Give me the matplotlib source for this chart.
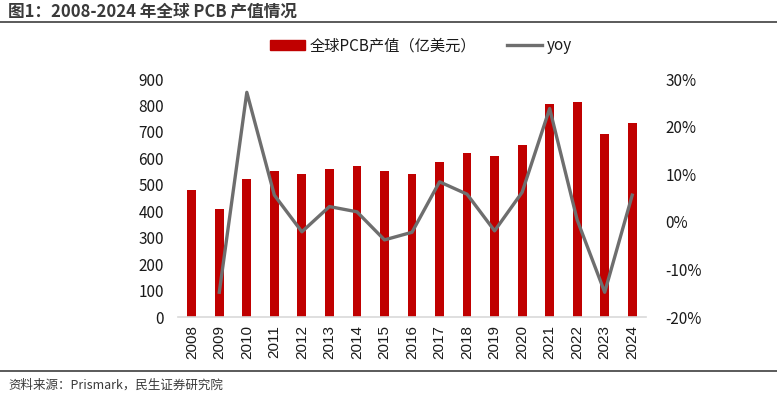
import numpy as np
import matplotlib.pyplot as plt
from matplotlib.lines import Line2D
from matplotlib.ticker import FuncFormatter

plt.rcParams['font.family'] = ['Noto Sans CJK SC', 'DejaVu Sans']

# Data
years = ['2008', '2009', '2010', '2011', '2012', '2013', '2014', '2015', '2016',
         '2017', '2018', '2019', '2020', '2021', '2022', '2023', '2024']
pcb_value = [480, 408, 522, 551, 541, 560, 571, 551, 540,
             586, 620, 609, 649, 807, 814, 692, 733]
yoy_years = years[1:]
yoy_pct = [-14.8, 27.2, 5.6, -2.1, 3.2, 2.1, -3.8, -2.2,
           8.4, 5.8, -1.9, 6.2, 23.8, 0.4, -14.8, 5.6]

bar_color = '#C00000'
line_color = '#6E6E6E'
text_color = '#1a1a1a'

fig = plt.figure(figsize=(7.77, 3.99), dpi=100)

# Main axes (bars, left scale)
ax = fig.add_axes([178 / 777, 82 / 399, (646 - 178) / 777, (317 - 79) / 399])
x = np.arange(len(years))
ax.bar(x, pcb_value, width=0.32, color=bar_color, zorder=2)
ax.set_xlim(-0.5, len(years) - 0.5)
ax.set_ylim(0, 900)
ax.set_yticks(range(0, 901, 100))
ax.set_xticks(x)
ax.set_xticklabels(years, rotation=90, family='Liberation Sans', fontsize=11.5)
ax.tick_params(axis='both', length=0, labelsize=11, colors=text_color)
ax.tick_params(axis='y', pad=10)
ax.tick_params(axis='x', pad=6)
for s in ['top', 'right', 'left']:
    ax.spines[s].set_visible(False)
ax.spines['bottom'].set_color('#d9d9d9')
ax.spines['bottom'].set_linewidth(1.2)

# Secondary axes (yoy line, right scale)
ax2 = ax.twinx()
yx = np.arange(1, len(years))
ax2.plot(yx, yoy_pct, color=line_color, linewidth=2.4, zorder=3)
ax2.set_ylim(-20, 30)
ax2.set_yticks(range(-20, 31, 10))
ax2.yaxis.set_major_formatter(FuncFormatter(lambda v, p: f'{int(v)}%'))
ax2.tick_params(axis='y', length=0, labelsize=11, colors=text_color, pad=14)
for s in ['top', 'right', 'left', 'bottom']:
    ax2.spines[s].set_visible(False)

# Legend
handles = [plt.Rectangle((0, 0), 1, 1, color=bar_color),
           Line2D([0], [0], color=line_color, linewidth=2.4)]
fig.legend(handles, ['全球PCB产值（亿美元）', 'yoy'], loc='center',
           bbox_to_anchor=(421 / 777, 1 - 46 / 399), ncol=2, frameon=False,
           fontsize=11, handlelength=2.3, handleheight=0.6, columnspacing=2.0,
           handletextpad=0.3, labelcolor=text_color)

# Title and source
fig.text(8 / 777, 1 - 11 / 399, '图1：2008-2024 年全球 PCB 产值情况', fontsize=12,
         fontweight='bold', color='#3a3a3a', va='center', ha='left')
fig.add_artist(Line2D([0, 1], [1 - 21.5 / 399] * 2, color='#5a5a5a', linewidth=1.4))
fig.add_artist(Line2D([0, 1], [1 - 371 / 399] * 2, color='#5a5a5a', linewidth=1.4))
fig.text(8 / 777, 1 - 385 / 399, '资料来源：Prismark，民生证券研究院', fontsize=9,
         color='#3a3a3a', va='center', ha='left')

plt.savefig('out.png', dpi=100)
